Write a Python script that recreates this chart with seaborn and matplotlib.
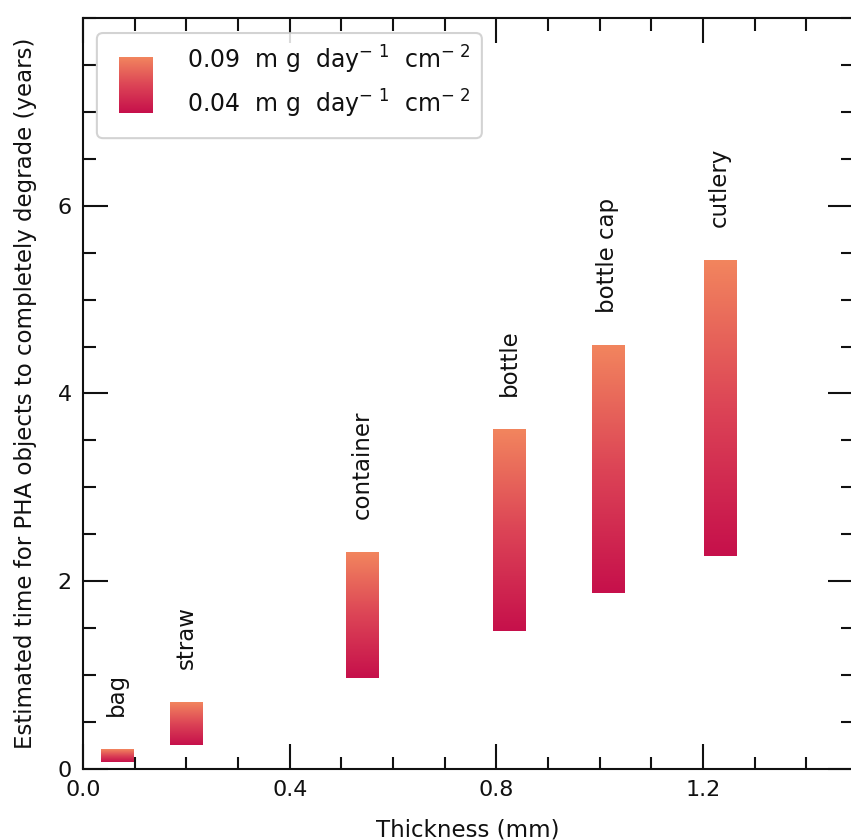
import numpy as np
import pandas as pd
import matplotlib
matplotlib.use("Agg")
import matplotlib.pyplot as plt
import seaborn as sns
from matplotlib.colors import LinearSegmentedColormap
from matplotlib.patches import FancyBboxPatch
from matplotlib.ticker import MultipleLocator, FormatStrFormatter

# ---- data ----
objects = ["bag", "straw", "container", "bottle", "bottle cap", "cutlery"]
thickness_mm = [0.065, 0.20, 0.54, 0.825, 1.015, 1.232]
years_fast = [0.075, 0.26, 0.97, 1.47, 1.87, 2.27]   # 0.09 mg day-1 cm-2
years_slow = [0.21, 0.71, 2.31, 3.62, 4.51, 5.42]    # 0.04 mg day-1 cm-2
rate_labels = ["0.09  m g  day$^{-\\ 1}$  cm$^{-\\ 2}$",
               "0.04  m g  day$^{-\\ 1}$  cm$^{-\\ 2}$"]
x_ticks = [0.0, 0.4, 0.8, 1.2]
y_ticks = [0, 2, 4, 6]

df = pd.DataFrame({"obj": objects, "x": thickness_mm,
                   "lo": years_fast, "hi": years_slow})

sns.set_theme(style="ticks")
plt.rcParams["font.family"] = ["DejaVu Sans"]
plt.rcParams["mathtext.fontset"] = "dejavusans"

cmap = LinearSegmentedColormap.from_list("pha", ["#C6104B", "#DC4456", "#F2855E"])
grad = np.linspace(0, 1, 256).reshape(-1, 1)

fig = plt.figure(figsize=(8.51, 8.40), dpi=100)
ax = fig.add_axes([83 / 851, 1 - 769 / 840, 770 / 851, 751 / 840])

bar_w = 0.062
for _, r in df.iterrows():
    ax.imshow(grad, extent=[r.x - bar_w / 2, r.x + bar_w / 2, r.lo, r.hi],
              origin="lower", aspect="auto", cmap=cmap, zorder=2)
    ax.text(r.x, r.hi + 0.35, r.obj, rotation=90, ha="center", va="bottom",
            fontsize=16.5, color="#111111", zorder=3)

sns.despine(ax=ax, top=False, right=False)
ax.set_xlim(0, 1.49)
ax.set_ylim(0, 8)
ax.set_xticks(x_ticks)
ax.set_yticks(y_ticks)
ax.xaxis.set_major_formatter(FormatStrFormatter("%.1f"))
ax.yaxis.set_major_formatter(FormatStrFormatter("%d"))
ax.xaxis.set_minor_locator(MultipleLocator(0.1))
ax.yaxis.set_minor_locator(MultipleLocator(0.5))
ax.tick_params(which="both", direction="in", top=True, right=True, width=1.5,
               labelsize=16, color="#111111", labelcolor="#111111")
ax.tick_params(which="major", length=18, pad=8)
ax.tick_params(which="minor", length=9)
for s in ax.spines.values():
    s.set_linewidth(1.5)
    s.set_color("#111111")
ax.grid(False)

ax.set_xlabel("Thickness (mm)", fontsize=16.5, color="#111111", labelpad=13)
ax.set_ylabel("Estimated time for PHA objects to completely degrade (years)",
              fontsize=16.5, color="#111111", labelpad=15)

# ---- legend (gradient patch with two end labels) ----
box = FancyBboxPatch((0.018, 0.840), 0.500, 0.140, boxstyle="round,pad=0,rounding_size=0.008",
                     transform=ax.transAxes, facecolor="white", edgecolor="#cccccc",
                     linewidth=1.5, alpha=0.85, zorder=4)
ax.add_patch(box)
ax.imshow(grad, extent=[0.047, 0.090, 0.873, 0.947], transform=ax.transAxes,
          origin="lower", aspect="auto", cmap=cmap, zorder=5)
ax.text(0.135, 0.944, rate_labels[0], transform=ax.transAxes, fontsize=17,
        va="center", ha="left", color="#111111", zorder=6)
ax.text(0.135, 0.885, rate_labels[1], transform=ax.transAxes, fontsize=17,
        va="center", ha="left", color="#111111", zorder=6)
ax.set_xlim(0, 1.49)
ax.set_ylim(0, 8)

fig.savefig("out.png", dpi=100)
